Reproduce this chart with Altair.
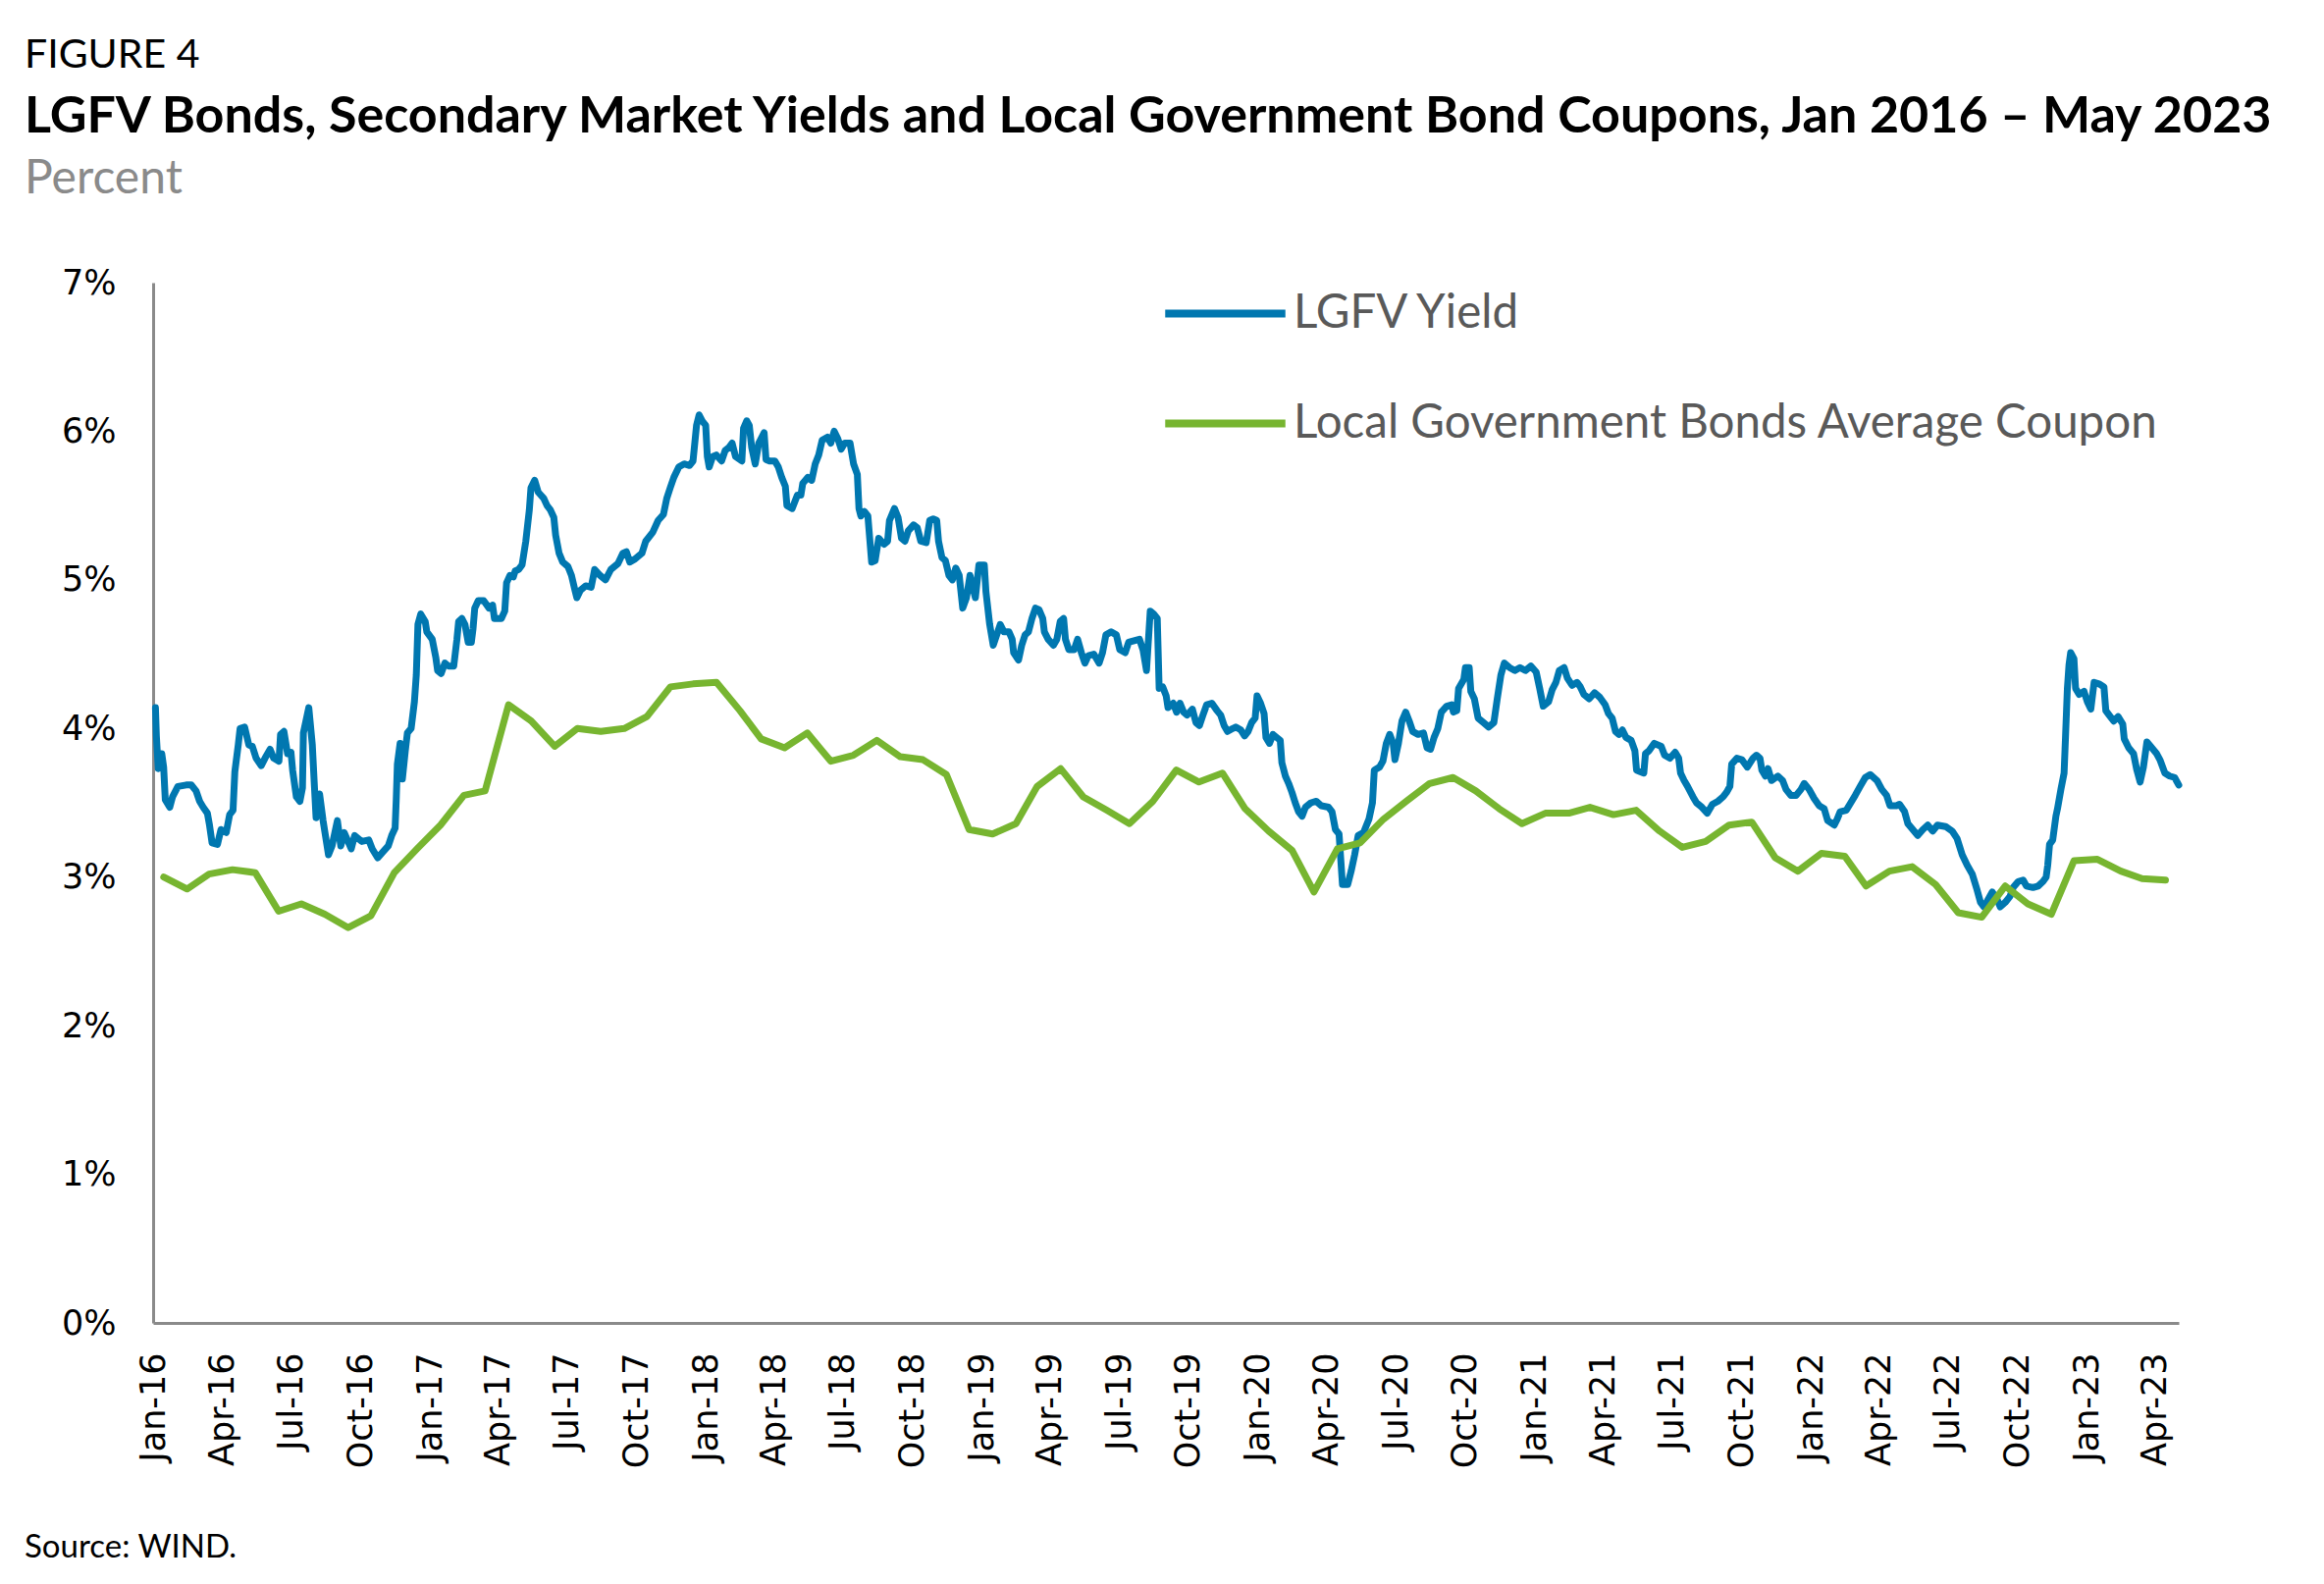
import altair as alt
import numpy as np
import pandas as pd

# ---------------- data ----------------
SERIES = ["LGFV Yield", "Local Government Bonds Average Coupon"]
BLUE = "#0077b0"
GREEN = "#77b530"

TITLE = "LGFV Bonds, Secondary Market Yields and Local Government Bond Coupons, Jan 2016 \u2013 May 2023"
SUBTITLE = "Percent"
FIGURE_LABEL = "FIGURE 4"
SOURCE = "Source: WIND."

# Local government bonds average coupon (%), one value per month, Jan 2016 .. Apr 2023
LGB_COUPON = [
    3.00, 2.92, 3.02, 3.05, 3.03, 2.77, 2.82, 2.75, 2.66, 2.74, 3.03, 3.19,
    3.35, 3.55, 3.58, 4.16, 4.05, 3.88, 4.00, 3.98, 4.00, 4.08, 4.28, 4.30,
    4.31, 4.12, 3.93, 3.87, 3.97, 3.78, 3.82, 3.92, 3.81, 3.79, 3.69, 3.32,
    3.29, 3.36, 3.61, 3.73, 3.54, 3.45, 3.36, 3.51, 3.72, 3.64, 3.70, 3.46,
    3.31, 3.18, 2.90, 3.19, 3.23, 3.39, 3.51, 3.63, 3.67, 3.58, 3.46, 3.36,
    3.43, 3.43, 3.47, 3.42, 3.45, 3.31, 3.20, 3.24, 3.35, 3.37, 3.13, 3.04,
    3.16, 3.14, 2.94, 3.04, 3.07, 2.95, 2.76, 2.73, 2.94, 2.82, 2.75, 3.11,
    3.12, 3.04, 2.99, 2.98,
]

# LGFV secondary-market yield (%): time in months elapsed since 1 Jan 2016, and yield
LGFV_MONTHS = [
    0.10, 0.14, 0.22, 0.29, 0.37, 0.45, 0.52, 0.71, 0.83, 1.06, 1.44, 1.67, 1.89, 2.05,
    2.20, 2.38, 2.47, 2.58, 2.81, 2.96, 3.19, 3.34, 3.49, 3.57, 3.72, 3.80, 4.00, 4.18,
    4.33, 4.49, 4.71, 4.87, 5.09, 5.25, 5.48, 5.55, 5.70, 5.86, 6.01, 6.08, 6.24, 6.39,
    6.50, 6.54, 6.77, 6.92, 7.00, 7.08, 7.23, 7.38, 7.61, 7.76, 7.99, 8.14, 8.29, 8.60,
    8.75, 9.06, 9.36, 9.51, 9.74, 9.97, 10.20, 10.35, 10.50, 10.55, 10.60, 10.72, 10.82,
    10.95, 11.04, 11.20, 11.34, 11.42, 11.49, 11.61, 11.80, 11.87, 12.10, 12.25, 12.33,
    12.48, 12.64, 12.79, 13.02, 13.17, 13.25, 13.40, 13.55, 13.70, 13.85, 13.93, 14.01,
    14.16, 14.39, 14.62, 14.77, 14.85, 15.15, 15.30, 15.38, 15.53, 15.68, 15.76, 15.91,
    16.06, 16.22, 16.37, 16.44, 16.60, 16.75, 16.98, 17.13, 17.28, 17.43, 17.51, 17.66,
    17.82, 18.05, 18.20, 18.35, 18.43, 18.58, 18.81, 19.04, 19.19, 19.42, 19.65, 19.88,
    20.19, 20.41, 20.56, 20.71, 20.94, 21.24, 21.40, 21.70, 21.93, 22.16, 22.31, 22.46,
    22.62, 22.84, 23.07, 23.30, 23.45, 23.60, 23.71, 23.84, 23.99, 24.06, 24.14, 24.29,
    24.44, 24.67, 24.82, 24.98, 25.13, 25.29, 25.59, 25.67, 25.82, 25.94, 26.05, 26.20,
    26.35, 26.58, 26.66, 26.81, 27.04, 27.19, 27.34, 27.50, 27.57, 27.80, 28.03, 28.18,
    28.26, 28.48, 28.64, 28.79, 28.94, 29.09, 29.32, 29.47, 29.62, 29.78, 29.93, 30.08,
    30.31, 30.46, 30.62, 30.69, 30.77, 30.92, 31.07, 31.23, 31.38, 31.53, 31.76, 31.91,
    31.99, 32.21, 32.37, 32.52, 32.67, 32.82, 33.05, 33.21, 33.36, 33.59, 33.74, 33.89,
    34.04, 34.12, 34.27, 34.42, 34.58, 34.73, 34.88, 35.03, 35.18, 35.34, 35.49, 35.64,
    35.72, 35.87, 36.10, 36.17, 36.33, 36.48, 36.63, 36.78, 36.94, 37.17, 37.32, 37.39,
    37.62, 37.77, 37.93, 38.08, 38.23, 38.38, 38.53, 38.69, 38.76, 38.92, 39.15, 39.30,
    39.45, 39.60, 39.68, 39.83, 40.06, 40.21, 40.37, 40.52, 40.67, 40.90, 41.13, 41.28,
    41.43, 41.66, 41.89, 42.04, 42.27, 42.42, 42.65, 42.88, 43.03, 43.18, 43.34, 43.49,
    43.64, 43.72, 43.87, 44.02, 44.10, 44.33, 44.48, 44.63, 44.79, 44.94, 45.17, 45.32,
    45.47, 45.62, 45.78, 46.00, 46.23, 46.39, 46.54, 46.69, 46.92, 47.05, 47.27, 47.43,
    47.58, 47.73, 47.88, 47.96, 48.11, 48.26, 48.34, 48.49, 48.64, 48.95, 49.02, 49.18,
    49.33, 49.48, 49.63, 49.78, 49.94, 50.09, 50.32, 50.55, 50.77, 51.08, 51.23, 51.38,
    51.54, 51.69, 51.92, 52.07, 52.22, 52.37, 52.60, 52.83, 52.98, 53.06, 53.29, 53.44,
    53.59, 53.74, 53.89, 53.97, 54.12, 54.27, 54.43, 54.58, 54.73, 54.96, 55.19, 55.34,
    55.49, 55.64, 55.80, 55.95, 56.18, 56.41, 56.48, 56.63, 56.71, 56.94, 57.01, 57.17,
    57.24, 57.39, 57.55, 57.78, 58.00, 58.23, 58.38, 58.54, 58.69, 58.92, 59.15, 59.37,
    59.60, 59.83, 60.06, 60.21, 60.36, 60.59, 60.74, 60.90, 61.05, 61.28, 61.43, 61.66,
    61.89, 62.04, 62.19, 62.42, 62.65, 62.87, 63.10, 63.25, 63.41, 63.56, 63.71, 63.86,
    64.02, 64.24, 64.40, 64.47, 64.62, 64.78, 64.85, 65.00, 65.23, 65.54, 65.69, 65.92,
    66.15, 66.30, 66.38, 66.53, 66.68, 66.91, 67.06, 67.29, 67.52, 67.74, 67.97, 68.20,
    68.35, 68.50, 68.58, 68.81, 69.03, 69.26, 69.50, 69.65, 69.80, 69.88, 70.03, 70.15,
    70.30, 70.58, 70.79, 70.94, 71.15, 71.37, 71.58, 71.72, 71.93, 72.14, 72.36, 72.57,
    72.72, 73.00, 73.14, 73.28, 73.57, 73.78, 73.99, 74.20, 74.42, 74.63, 74.92, 75.13,
    75.34, 75.49, 75.77, 75.91, 76.13, 76.27, 76.48, 76.69, 76.91, 77.12, 77.34, 77.55,
    77.91, 78.19, 78.40, 78.62, 78.83, 79.05, 79.26, 79.40, 79.54, 79.69, 79.90, 80.11,
    80.25, 80.47, 80.68, 80.82, 81.04, 81.25, 81.39, 81.67, 81.89, 82.10, 82.24, 82.31,
    82.39, 82.53, 82.67, 82.74, 82.89, 83.03, 83.09, 83.17, 83.24, 83.31, 83.45, 83.52,
    83.67, 83.88, 84.02, 84.17, 84.31, 84.52, 84.73, 84.81, 84.95, 85.16, 85.37, 85.59,
    85.66, 85.87, 86.09, 86.23, 86.37, 86.51, 86.66, 86.87, 87.08, 87.22, 87.44, 87.65,
    87.87, 88.05,
]
LGFV_YIELD = [
    4.14, 3.95, 3.73, 3.83, 3.83, 3.74, 3.52, 3.47, 3.54, 3.61, 3.62, 3.62, 3.58, 3.51,
    3.47, 3.43, 3.35, 3.23, 3.22, 3.32, 3.30, 3.42, 3.45, 3.71, 3.89, 4.00, 4.01, 3.89,
    3.88, 3.80, 3.75, 3.80, 3.86, 3.80, 3.78, 3.96, 3.98, 3.83, 3.84, 3.72, 3.54, 3.51,
    3.60, 3.97, 4.14, 3.89, 3.64, 3.40, 3.56, 3.38, 3.15, 3.21, 3.38, 3.21, 3.30, 3.19,
    3.28, 3.24, 3.25, 3.19, 3.13, 3.17, 3.21, 3.28, 3.33, 3.52, 3.76, 3.90, 3.66,
    3.85, 3.97, 4.00, 4.18, 4.36, 4.70, 4.77, 4.72, 4.65, 4.60, 4.48, 4.39,
    4.37, 4.44, 4.42, 4.42, 4.60, 4.72, 4.74, 4.70, 4.58, 4.58, 4.67, 4.81,
    4.86, 4.86, 4.81, 4.83, 4.74, 4.74, 4.79, 4.98, 5.03, 5.02, 5.06, 5.07,
    5.10, 5.26, 5.47, 5.62, 5.67, 5.59, 5.55, 5.50, 5.47, 5.42, 5.30, 5.18,
    5.12, 5.09, 5.03, 4.93, 4.88, 4.93, 4.96, 4.95, 5.07, 5.03, 5.00, 5.07,
    5.11, 5.18, 5.19, 5.12, 5.14, 5.18, 5.26, 5.32, 5.40, 5.44, 5.55, 5.62,
    5.69, 5.76, 5.78, 5.77, 5.80, 6.04, 6.11, 6.07, 6.04, 5.83, 5.76, 5.83,
    5.84, 5.80, 5.87, 5.89, 5.92, 5.83, 5.80, 6.02, 6.07, 6.04, 5.89, 5.78,
    5.92, 5.99, 5.81, 5.80, 5.80, 5.76, 5.69, 5.63, 5.50, 5.48, 5.57, 5.57,
    5.65, 5.69, 5.67, 5.78, 5.84, 5.94, 5.96, 5.92, 6.00, 5.95, 5.88, 5.92,
    5.92, 5.78, 5.71, 5.48, 5.43, 5.46, 5.43, 5.12, 5.13, 5.28, 5.24, 5.26,
    5.40, 5.48, 5.42, 5.28, 5.26, 5.33, 5.37, 5.35, 5.26, 5.25, 5.40, 5.41,
    5.40, 5.26, 5.15, 5.13, 5.03, 5.00, 5.08, 5.03, 4.81, 4.88, 5.03, 4.93,
    4.88, 5.10, 5.10, 4.92, 4.70, 4.56, 4.63, 4.70, 4.65, 4.65, 4.60, 4.51,
    4.46, 4.56, 4.63, 4.65, 4.74, 4.81, 4.80, 4.74, 4.65, 4.60, 4.56, 4.60,
    4.72, 4.74, 4.60, 4.53, 4.53, 4.60, 4.51, 4.44, 4.49, 4.50, 4.44, 4.51,
    4.63, 4.65, 4.63, 4.53, 4.51, 4.58, 4.59, 4.60, 4.53, 4.39, 4.79, 4.77,
    4.74, 4.27, 4.28, 4.22, 4.14, 4.17, 4.11, 4.17, 4.11, 4.09, 4.13, 4.04,
    4.02, 4.09, 4.16, 4.17, 4.12, 4.09, 4.02, 3.98, 4.00, 4.01, 3.99, 3.95,
    3.98, 4.04, 4.07, 4.22, 4.17, 4.10, 3.94, 3.90, 3.96, 3.92, 3.77, 3.68,
    3.63, 3.57, 3.50, 3.44, 3.41, 3.47, 3.50, 3.51, 3.48, 3.47, 3.44, 3.32,
    3.29, 2.95, 2.95, 3.04, 3.15, 3.28, 3.30, 3.39, 3.50, 3.72, 3.74, 3.78,
    3.90, 3.96, 3.90, 3.79, 3.90, 4.05, 4.11, 4.05, 3.98, 3.96, 3.97, 3.87,
    3.86, 3.94, 4.00, 4.11, 4.15, 4.16, 4.11, 4.12, 4.27, 4.33, 4.41, 4.41,
    4.25, 4.20, 4.07, 4.04, 4.01, 4.04, 4.20, 4.36, 4.44, 4.41, 4.39, 4.41,
    4.39, 4.42, 4.38, 4.27, 4.15, 4.18, 4.26, 4.31, 4.39, 4.41, 4.34, 4.29,
    4.31, 4.28, 4.23, 4.20, 4.24, 4.21, 4.16, 4.10, 4.07, 3.98, 3.96, 3.99,
    3.94, 3.92, 3.85, 3.72, 3.71, 3.70, 3.83, 3.85, 3.90, 3.88, 3.82, 3.80,
    3.84, 3.80, 3.70, 3.65, 3.61, 3.54, 3.50, 3.47, 3.43, 3.49, 3.51, 3.54,
    3.57, 3.61, 3.76, 3.80, 3.79, 3.74, 3.80, 3.82, 3.80, 3.72, 3.68, 3.73,
    3.65, 3.68, 3.65, 3.59, 3.55, 3.55, 3.59, 3.63, 3.59, 3.53, 3.48, 3.46,
    3.38, 3.35, 3.39, 3.44, 3.45, 3.50, 3.55, 3.61, 3.67, 3.69, 3.65, 3.59,
    3.55, 3.48, 3.48, 3.49, 3.44, 3.36, 3.32, 3.28, 3.32, 3.35, 3.31, 3.35,
    3.34, 3.31, 3.26, 3.15, 3.08, 3.02, 2.91, 2.83, 2.80, 2.84, 2.90, 2.85,
    2.80, 2.83, 2.87, 2.93, 2.97, 2.98, 2.94, 2.93, 2.94, 2.97, 3.00, 3.08,
    3.22, 3.25, 3.41, 3.46, 3.59, 3.70, 3.94, 4.27, 4.43, 4.51, 4.47, 4.27,
    4.23, 4.25, 4.18, 4.13, 4.31, 4.30, 4.28, 4.12, 4.09, 4.05, 4.08, 4.03,
    3.93, 3.87, 3.83, 3.72, 3.64, 3.74, 3.91, 3.87, 3.83, 3.79, 3.70, 3.68,
    3.67, 3.62,
]

# x-axis tick labels: every quarter from Jan-16 to Apr-23
TICK_YEARS = list(range(2016, 2024))
TICK_MONTHS = [1, 4, 7, 10]
Y_TICKS = [0, 1, 2, 3, 4, 5, 6, 7]


def month_pos_to_ts(m):
    i = int(np.floor(m))
    frac = m - i
    start = pd.Timestamp(2016 + i // 12, i % 12 + 1, 1)
    end = start + pd.offsets.MonthBegin(1)
    return start + (end - start) * frac


blue_df = pd.DataFrame({
    "date": [month_pos_to_ts(m) for m in LGFV_MONTHS],
    "value": LGFV_YIELD,
    "series": SERIES[0],
})
green_df = pd.DataFrame({
    "date": pd.date_range("2016-01-01", periods=len(LGB_COUPON), freq="MS") + pd.Timedelta(days=14),
    "value": LGB_COUPON,
    "series": SERIES[1],
})

end_ts = month_pos_to_ts(LGFV_MONTHS[-1])
x_domain = [
    alt.DateTime(year=2016, month=1, date=1),
    alt.DateTime(year=end_ts.year, month=end_ts.month, date=end_ts.day, hours=end_ts.hour),
]
tick_values = [alt.DateTime(year=y, month=mo, date=1)
               for y in TICK_YEARS for mo in TICK_MONTHS
               if (y, mo) <= (2023, 4)]

AXIS_FONT = "DejaVu Sans"
TEXT_FONT = "Lato"

x_enc = alt.X(
    "date:T",
    title=None,
    scale=alt.Scale(domain=x_domain, nice=False),
    axis=alt.Axis(values=tick_values, format="%b-%y", labelAngle=-90,
                  labelFont=AXIS_FONT, labelFontSize=35, labelColor="#000000",
                  labelPadding=30, ticks=False, grid=False,
                  domainColor="#8a8a8a", domainWidth=3, labelOverlap=False,
                  labelFlush=False),
)
y_enc = alt.Y(
    "value:Q",
    title=None,
    scale=alt.Scale(domain=[0, 7], nice=False, zero=True),
    axis=alt.Axis(values=Y_TICKS, labelExpr="datum.value + '%'",
                  labelFont=AXIS_FONT, labelFontSize=35, labelColor="#000000",
                  labelPadding=38, ticks=False, grid=False,
                  domainColor="#8a8a8a", domainWidth=3),
)
color_enc = alt.Color(
    "series:N",
    scale=alt.Scale(domain=SERIES, range=[BLUE, GREEN]),
    legend=alt.Legend(
        title=None, orient="none", legendX=1027, legendY=-34, direction="vertical",
        symbolType="stroke", symbolSize=15000, symbolStrokeWidth=8,
        labelFont=TEXT_FONT, labelFontSize=47.5, labelColor="#595959",
        labelOffset=4, rowPadding=23, padding=0, labelLimit=2000,
    ),
)

line_style = dict(strokeWidth=7, strokeCap="round", strokeJoin="round")
blue_line = alt.Chart(blue_df).mark_line(**line_style).encode(x=x_enc, y=y_enc, color=color_enc)
green_line = alt.Chart(green_df).mark_line(**line_style).encode(x=x_enc, y=y_enc, color=color_enc)


def text_layer(txt, size, y, color="#000000", weight="normal"):
    return alt.Chart(pd.DataFrame({"t": [txt]})).mark_text(
        align="left", baseline="alphabetic", font=TEXT_FONT, fontSize=size,
        fontWeight=weight, color=color,
    ).encode(text="t:N", x=alt.value(-131), y=alt.value(y))


fig_text = text_layer(FIGURE_LABEL, 41, -219)
title_text = text_layer(TITLE, 52, -153, weight="bold")
subtitle_text = text_layer(SUBTITLE, 48, -91, color="#8a8a8a")
source_text = text_layer(SOURCE, 33, 1299)

chart = alt.layer(
    blue_line, green_line, fig_text, title_text, subtitle_text, source_text
).properties(
    width=2064,
    height=1060,
    padding={"left": 17, "top": 28, "right": 10, "bottom": 5},
).configure_view(stroke=None)

chart.save("out.html", embed_options={"renderer": "svg", "actions": False})
